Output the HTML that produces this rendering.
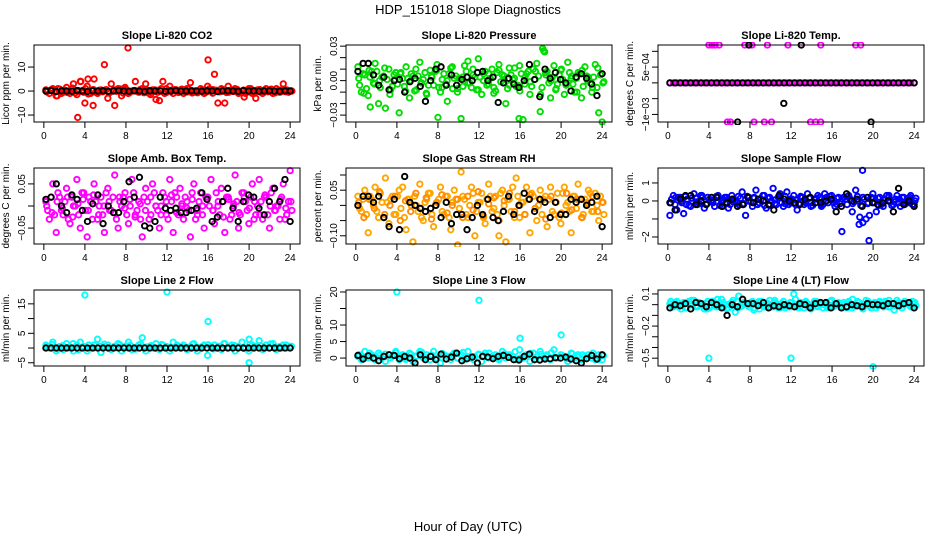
<!DOCTYPE html>
<html><head><meta charset="utf-8"><style>
html,body{margin:0;padding:0;background:#fff;}
svg{display:block;font-family:"Liberation Sans",Arial,sans-serif;}
</style></head><body>
<svg id="chart" width="936" height="540" viewBox="0 0 936 540" xmlns="http://www.w3.org/2000/svg">
<rect width="936" height="540" fill="#fff"/>
<text x="468" y="14" text-anchor="middle" font-size="13">HDP_151018  Slope Diagnostics</text>
<text x="468" y="531" text-anchor="middle" font-size="13">Hour of Day (UTC)</text>
</svg>
<script>
const xTicks = [0,4,8,12,16,20,24];

// CO2
const co2Color = [0.5,-1,1,-2,0.8,-0.5,1.5,-1,3,-1.5,4,-0.5,2,-1,5,-1,0.5,11,-3,3,-6,1,-2,1.5,-1,0,4,-0.5,1,3,-1,0.5,-3.5,-4,4,1,2,-1,0.5,0,-1,1,3.5,-0.5,0,1,-1,2,0.5,7,-5,1,-5,2,0.5,1,-1,0,-1,1,-1,-3,0.5,-1,1,0.5,-1,1,-0.5,3,0.5,0];
const co2Color2 = [0,0.5,-0.5,1,-1,0.3,-0.3,0.8,-0.8,0.2,-0.2,1,-1,0.5,-0.5,0.3,-0.3,0.6,-0.6,0.1,-0.1,0.9,-0.9,0.4,-0.4,0.2,-0.2,0.7,-0.7,0.3,-0.3,0.5,-0.5,1,-1,0.2,-0.2,0.6,-0.6,0.4,-0.4,0.8,-0.8,0.1,-0.1,0.5,-0.5,0.9,-0.9,0.3,-0.3,0.6,-0.6,0.2,-0.2,0.7,-0.7,0.4,-0.4,1,-1,0.5,-0.5,0.3,-0.3,0.8,-0.8,0.2,-0.2,0.5,-0.5,0];
const co2Color3 = [-0.3,0.4,-2,0.2,-0.6,1.2,-0.2,0.3,-1.2,0.6,-0.4,0.1,-0.8,0.5,-0.1,0.9,-0.5,0.2,-0.3,0.7,-1.5,0.4,0.0,-0.6,0.3,-0.2,0.8,-0.4,0.1,-0.7,0.5,-0.1,0.6,-0.3,0.2,-0.5,0.4,-0.2,-2.5,0.3,-0.4,0.6,-0.1,0.2,-0.6,0.4,-0.3,0.1];
const co2OutX = [3.3,4.0,4.3,8.2,16.0,4.8,3.6];
const co2OutY = [-11,-5,5,18,13,-6,4];
const co2Black = [0,0.2,-0.2,0.1,0,-0.1,0.2,0,-0.2,0.1,0,0.1,-0.1,0,0.2,0,-0.1,0.1,0,-0.2,0.1,0,0.1,-0.1,0,0.2,-0.1,0,0.1,0,-0.1,0.1,0,-0.2,0,0.1,0,-0.1,0.2,0,0.1,-0.1,0,0.1,0,-0.1,0.1,0];

// Pressure
const presColor = [0.012,-0.01,0.005,-0.013,0.008,0.015,-0.02,0.003,-0.024,0.01,-0.005,0.007,-0.028,0.002,0.012,-0.015,0.004,-0.008,0.016,0.001,-0.012,0.009,-0.004,0.014,-0.01,0.006,-0.018,0.011,0.002,-0.007,-0.033,0.013,0.017,-0.006,0.003,0.019,-0.012,0.008,-0.003,0.01,-0.009,0.014,0.005,-0.02,0.011,0.001,-0.005,0.013,-0.034,0.006,-0.012,0.01,0.015,-0.027,0.026,0.008,-0.015,0.013,-0.003,0.009,-0.012,0.016,0.002,-0.01,0.007,-0.015,0.012,0.003,-0.01,0.014,-0.028,-0.036];
const presColor2 = [-0.004,0.006,-0.007,0.003,-0.002,0.008,-0.006,0.004,0.001,-0.008,0.005,-0.003,0.007,-0.005,0.002,0.006,-0.009,0.004,-0.002,0.007,-0.004,0.003,0.008,-0.006,0.001,-0.003,0.006,-0.007,0.004,0.002,-0.005,0.008,-0.002,0.005,-0.008,0.003,0.006,-0.004,0.002,-0.006,0.007,-0.001,0.004,-0.007,0.005,0.002,-0.004,0.006,-0.003,0.008,-0.005,0.001,0.004,-0.006,0.007,-0.002,0.003,-0.008,0.005,0.001,-0.004,0.007,-0.003,0.002,0.006,-0.005,0.004,-0.002,0.003,-0.006,0.005,-0.001];
const presColor3 = [0.002,-0.011,0.009,-0.003,0.0,0.011,-0.012,0.001,0.006,-0.009,0.0,0.01,-0.002,-0.011,0.004,0.009,-0.006,0.0,0.012,-0.01,0.003,-0.002,0.01,-0.008,0.0,0.006,-0.011,0.009,0.001,-0.004,0.011,-0.009,0.003,-0.001,0.008,-0.012,0.005,0.0,-0.007,0.01,-0.003,0.004,-0.01,0.009,0.0,-0.006,0.011,-0.002];
const presOutX = [18.2,18.4,8.0,15.9,1.4];
const presOutY = [0.028,0.025,-0.032,-0.033,-0.023];
const presBlack = [0.008,0.015,0.015,0.005,-0.004,0.003,-0.008,0,0.001,-0.01,-0.001,0.002,-0.005,-0.018,0,0.01,0.012,-0.004,0.005,-0.004,0.001,0.003,0,0.007,0.008,0,0.003,-0.019,-0.002,0.002,-0.003,-0.006,0,0.014,0.001,-0.014,0.01,0.002,0.007,0.001,-0.002,-0.009,0.003,0.006,0.002,-0.003,-0.013,0.006];

// Li-820 Temp
const tempColor = [0,0,0,0,0,0,0,0,0,0,0,0,0,0,0,0,0,0,0,0,0,0,0,0,0,0,0,0,0,0,0,0,0,0,0,0,0,0,0,0,0,0,0,0,0,0,0,0,0,0,0,0,0,0,0,0,0,0,0,0,0,0,0,0,0,0,0,0,0,0,0,0];
const tempOutX = [4.0,4.3,4.6,5.0,7.5,7.9,8.2,9.7,11.7,13.0,14.9,18.3,18.8,5.8,6.1,8.4,9.4,10.1,13.9,14.4,14.9];
const tempOutY = [0.0012,0.0012,0.0012,0.0012,0.0012,0.0012,0.0012,0.0012,0.0012,0.0012,0.0012,0.0012,0.0012,-0.00124,-0.00124,-0.00124,-0.00124,-0.00124,-0.00124,-0.00124,-0.00124];
const tempBlack = [0,0,0,0,0,0,0,0,0,0,0,0,0,0,0,0,0,0,0,0,0,0,0,0,0,0,0,0,0,0,0,0,0,0,0,0,0,0,0,0,0,0,0,0,0,0,0,0];
const tempBlackOutX = [6.8,7.9,11.3,13.0,19.8];
const tempBlackOutY = [-0.00124,0.0012,-0.00065,0.0012,-0.00124];

// Amb box temp
const ambColor = [0.01,-0.03,0.05,-0.06,0.02,-0.02,0.04,-0.04,0.0,0.06,-0.05,0.03,-0.07,0.01,0.05,-0.03,0.02,-0.06,0.04,-0.01,0.07,-0.05,0.0,0.03,-0.04,0.06,-0.02,0.01,-0.07,0.04,-0.03,0.05,0.0,-0.05,0.03,-0.02,0.06,-0.06,0.02,0.04,-0.03,0.01,-0.07,0.05,-0.01,0.03,-0.05,0.02,0.06,-0.04,0.0,0.04,-0.06,0.02,-0.02,0.07,-0.05,0.03,0.01,-0.04,0.05,-0.02,0.06,-0.03,0.02,-0.05,0.04,0.0,-0.03,0.05,-0.02,0.08];
const ambColor2 = [-0.01,0.02,-0.02,0.03,-0.01,0.01,-0.03,0.02,0.0,-0.02,0.03,-0.01,0.02,-0.03,0.01,0.0,-0.02,0.03,-0.01,0.02,-0.03,0.01,0.02,-0.02,0.0,0.03,-0.01,-0.03,0.02,0.01,-0.02,0.03,-0.01,0.0,0.02,-0.03,0.01,0.03,-0.02,0.0,0.02,-0.01,0.03,-0.03,0.01,-0.02,0.02,0.0,-0.01,0.03,-0.02,0.01,0.02,-0.03,0.0,0.01,-0.02,0.03,-0.01,0.02,-0.03,0.0,0.01,0.02,-0.02,0.03,-0.01,0.0,0.02,-0.03,0.01,-0.01];
const ambColor3 = [0.0,-0.015,0.01,-0.005,0.02,-0.025,0.005,0.015,-0.01,0.025,-0.02,0.0,0.01,-0.015,0.02,-0.005,0.015,-0.025,0.005,-0.01,0.02,0.0,-0.02,0.01,0.025,-0.015,0.005,-0.005,0.015,-0.02,0.0,0.02,-0.01,0.01,-0.025,0.015,0.005,-0.015,0.02,-0.005,0.01,-0.02,0.025,0.0,-0.01,0.015,-0.005,0.01];
const ambBlack = [0.015,0.02,0.05,0.0,-0.015,0.025,0.015,-0.01,-0.035,0.005,0.025,-0.04,0.0,-0.015,-0.015,0.01,0.055,0.02,0.065,-0.045,-0.05,-0.035,0.02,-0.005,-0.01,-0.005,-0.015,-0.015,-0.01,-0.005,0.03,0.015,-0.035,-0.025,0.01,0.04,-0.005,-0.035,0.01,0.025,0.02,-0.005,-0.02,0.01,0.04,0.01,0.06,-0.035];

// Gas stream RH
const rhColor = [0.03,-0.02,0.05,-0.09,0.02,0.06,-0.04,0.01,0.09,-0.06,0.03,-0.03,0.05,0.06,-0.08,0.02,-0.12,0.0,0.07,-0.05,0.02,0.04,-0.07,0.01,0.06,-0.03,0.03,-0.08,0.05,-0.13,0.11,0.02,-0.04,0.06,-0.1,0.01,0.04,-0.06,0.07,-0.02,0.03,-0.1,0.05,-0.12,0.02,0.06,0.09,-0.04,0.01,0.06,-0.09,0.03,-0.05,0.05,0.02,-0.07,0.06,-0.03,0.04,-0.06,0.06,0.01,-0.09,0.03,0.07,-0.04,0.02,0.05,-0.02,0.04,-0.05,0.01];
const rhColor2 = [-0.01,0.02,-0.03,0.03,0.0,-0.02,0.04,-0.04,0.01,0.02,-0.03,0.03,-0.01,-0.04,0.02,0.0,0.03,-0.02,-0.04,0.01,0.04,-0.03,0.0,0.02,-0.02,0.03,-0.04,0.01,0.02,-0.01,0.03,-0.03,0.0,0.04,-0.02,0.01,-0.04,0.02,0.03,-0.01,-0.03,0.04,0.0,0.02,-0.02,-0.04,0.03,0.01,-0.03,0.02,0.04,-0.01,0.0,-0.03,0.03,0.02,-0.02,0.01,-0.04,0.04,0.0,-0.02,0.03,-0.01,0.02,-0.03,0.01,0.04,-0.02,0.0,0.03,-0.03];
const rhColor3 = [0.01,-0.04,0.02,-0.01,0.045,-0.03,0.0,0.03,-0.05,0.015,-0.02,0.04,-0.01,0.025,-0.045,0.01,0.035,-0.025,0.0,0.02,-0.04,0.03,-0.015,0.045,-0.035,0.005,0.025,-0.05,0.015,0.04,-0.02,0.0,-0.03,0.035,-0.01,0.02,-0.045,0.03,0.01,-0.025,0.04,-0.015,0.02,-0.04,0.005,0.03,-0.02,0.01];
const rhBlack = [0.0,0.03,0.03,0.01,0.03,-0.04,-0.07,0.02,-0.08,0.095,0.01,0.0,-0.01,-0.02,-0.01,0.0,-0.04,0.01,-0.06,-0.03,-0.03,-0.08,-0.04,0.0,-0.03,0.02,-0.04,-0.05,-0.02,0.03,-0.03,0.0,0.04,0.02,-0.02,0.02,0.01,-0.04,0.01,-0.03,-0.03,0.02,0.01,0.02,0.0,0.01,0.03,-0.07];

// Sample flow
const sampColor = [-0.8,0.3,-0.5,0.2,-0.7,0.1,-0.3,0.4,-0.2,0.3,-0.4,0.2,0.0,-0.3,0.3,-0.1,0.2,-0.4,0.3,0.0,-0.2,0.5,-0.8,0.2,-0.3,0.6,-0.1,0.3,-0.4,0.2,0.7,-0.2,0.4,-0.3,0.5,-0.1,0.3,-0.5,0.2,-0.2,0.4,-0.3,0.1,0.3,-0.2,0.4,-0.1,0.3,-0.3,0.2,-1.7,0.1,0.3,-0.6,0.6,-1.3,1.7,-1.0,-0.8,0.4,-0.6,0.2,-0.3,0.3,0.0,-0.2,0.3,-0.3,0.2,-0.1,0.3,-0.2];
const sampColor2 = [0.1,-0.2,0.2,-0.1,0.25,-0.25,0.0,0.15,-0.15,0.2,-0.2,0.1,-0.1,0.25,-0.25,0.05,0.2,-0.2,0.1,-0.1,0.15,-0.15,0.25,-0.05,0.2,-0.2,0.1,-0.25,0.15,0.0,-0.15,0.2,-0.1,0.25,-0.2,0.1,0.05,-0.15,0.2,-0.1,0.15,-0.25,0.1,0.2,-0.2,0.0,0.25,-0.1,0.15,-0.15,0.2,-0.2,0.1,-0.05,0.25,-0.25,0.1,-0.15,0.2,-0.1,0.15,-0.2,0.05,0.2,-0.25,0.1,-0.1,0.2,-0.15,0.1,-0.2,0.15];
const sampColor3 = [-0.1,0.2,0.0,-0.2,0.15,-0.05,0.3,-0.15,0.05,0.2,-0.3,0.1,-0.05,0.25,-0.2,0.0,0.15,-0.1,0.3,-0.25,0.05,0.2,-0.15,0.1,-0.2,0.25,0.0,-0.1,0.15,-0.3,0.2,0.05,-0.2,0.1,0.25,-0.15,0.0,0.2,-0.1,0.15,-0.25,0.05,0.3,-0.05,0.1,-0.2,0.2,0.0];
const sampOutX = [19.6,19.0,18.7];
const sampOutY = [-2.2,-1.2,-0.9];
const sampBlack = [-0.1,-0.5,0.1,0.3,0.3,-0.2,0.0,-0.2,0.2,0.2,-0.3,-0.1,0.1,-0.3,-0.2,0.2,-0.1,0.1,0.0,-0.2,-0.5,0.3,0.1,0.0,-0.1,-0.2,0.1,0.2,-0.1,-0.1,0.0,0.1,-0.6,-0.3,0.4,0.0,0.1,-0.3,0.2,-0.1,-0.2,-0.1,0.0,-0.6,0.7,-0.2,0.0,-0.3];

// Line 2 flow
const l2Color = [1,0,2,-1,0.5,-0.5,1.5,0,-1,1,2,0.5,-1,0,1,3,-1.5,0.5,1,-0.5,0,1.5,-1,0.5,2,-0.5,0,1,3.5,-1,0.5,0,1.5,-0.5,1,0,-1,2,0.5,0,1,-0.5,0.5,1.5,-1,0,1,-2.5,0.5,1,0,-0.5,1.5,0,1,-1,0.5,2,0,-1,1,0.5,2.5,-0.5,1,0,1.5,-0.5,0.5,1,0,0.5];
const l2Color2 = [0.5,1.2,-0.3,0.8,0.2,1.5,-0.6,0.4,1.0,0.0,0.7,1.3,-0.2,0.6,1.1,0.1,0.9,-0.4,1.4,0.3,0.8,-0.1,1.2,0.5,0.0,1.0,0.4,-0.5,1.3,0.2,0.7,1.1,-0.3,0.6,1.5,0.1,0.9,0.3,-0.2,1.2,0.5,0.8,0.0,1.4,0.4,-0.1,1.0,0.6];
const l2OutX = [4.0,12.0,16.0,20.0,20.0];
const l2OutY = [18,19,9,3,-5];
const l2Black = [0,0,0,0,0,0,0,0,0,0,0,0,0,0,0,0,0,0,0,0,0,0,0,0,0,0,0,0,0,0,0,0,0,0,0,0,0,0,0,0,0,0,0,0,0,0,0,0];

// Line 3 flow
const l3Color = [0.5,-0.5,2,0,1,-0.5,1.5,0,-1,1,0.5,2,-0.5,1,0,1.5,-1,0.5,2,0,1,-0.5,2,0,-1.5,1,0.5,-0.5,1.5,0,1,-0.5,2,0,0.5,1,-1,1.5,0,0.5,1,-0.5,2,0,1,0.5,-0.5,2.5,0,1,-1,1.5,0.5,2,0,1,-0.5,2.5,0,1,0.5,-1,1.5,0,1,-0.5,0.5,1,0,-0.5,1,-0.5];
const l3Color2 = [1.0,0.2,1.5,-0.3,0.8,1.2,0.0,1.6,0.4,-0.4,1.1,0.6,1.8,0.1,0.9,-0.2,1.4,0.5,1.0,0.0,1.7,0.3,-0.5,1.2,0.7,1.5,0.2,-0.1,1.3,0.6,1.9,0.0,0.8,1.4,-0.3,1.1,0.5,1.6,0.2,0.9,-0.2,1.3,0.4,1.0,0.1,1.5,-0.4,0.7];
const l3OutX = [4.0,12.0,16.0,20.0];
const l3OutY = [20,17.5,6,7];
const l3Black = [0.8,-0.3,0.7,0,-0.8,0.5,1,0.8,-0.2,0.5,0,-1.5,1,-0.5,0.5,-0.5,1.2,-0.3,0.3,1.5,-0.8,-0.2,0.3,-1.5,0.5,0.3,-0.2,0.5,0.8,0.2,-0.5,-0.6,0.5,1.2,-0.5,-0.6,-0.3,-0.2,0.1,0,0.3,-0.3,-0.8,-1.5,-0.2,0.8,-0.3,1];

// Line 4 (LT) flow
const l4Color = [0.01,-0.02,0.03,-0.01,0.02,-0.03,0.0,0.04,-0.02,0.01,-0.04,0.03,-0.01,0.02,-0.02,0.05,0.0,-0.03,0.02,-0.07,0.08,-0.01,0.01,-0.02,0.03,0.0,-0.04,0.02,-0.01,0.04,-0.02,0.01,-0.03,0.03,0.0,-0.02,0.1,-0.01,0.02,-0.03,0.01,-0.01,0.03,-0.02,0.01,0.0,-0.03,0.04,-0.01,0.02,-0.02,0.01,0.03,-0.03,0.0,0.02,-0.02,0.04,-0.01,0.01,-0.03,0.03,0.0,0.02,-0.02,0.01,0.04,-0.01,0.0,0.02,-0.02,0.01];
const l4Color2 = [-0.01,0.02,-0.02,0.01,-0.03,0.03,0.0,-0.02,0.02,-0.01,0.01,-0.03,0.03,-0.02,0.0,0.02,-0.04,0.01,-0.01,0.03,-0.02,0.01,0.0,0.02,-0.03,-0.01,0.03,-0.02,0.01,0.0,0.02,-0.03,0.01,-0.01,-0.02,0.02,0.0,-0.03,0.01,0.03,-0.02,0.0,-0.01,0.02,-0.03,0.01,0.03,-0.02,0.0,-0.01,0.02,-0.03,0.01,-0.01,0.03,-0.02,0.0,0.01,-0.03,0.02,-0.01,0.0,0.03,-0.02,0.01,-0.01,0.02,-0.03,0.01,0.0,0.03,-0.01];
const l4Color3 = [0.03,0.0,-0.04,0.02,0.04,-0.01,0.01,-0.04,0.03,0.05,-0.02,0.0,0.04,-0.03,0.02,0.0,-0.05,0.03,0.01,-0.02,0.04,0.0,-0.03,0.02,0.05,-0.01,0.01,-0.04,0.03,0.0,-0.02,0.04,0.01,-0.03,0.02,0.05,-0.01,-0.04,0.03,0.0,0.02,-0.02,0.04,-0.05,0.01,0.03,-0.01,0.02];
const l4OutX = [4.0,12.0,20.0];
const l4OutY = [-0.5,-0.5,-0.58];
const l4Black = [-0.03,0.0,-0.01,0.01,-0.04,0.02,0.01,-0.02,0.02,0.0,-0.03,-0.1,0.0,-0.02,0.05,0.01,0.01,-0.01,0.02,-0.03,-0.01,-0.02,0.0,-0.01,-0.02,0.01,0.0,-0.03,0.01,0.02,0.02,-0.03,0.01,-0.03,-0.02,0.0,-0.01,-0.02,0.01,0.0,0.0,-0.01,0.01,0.01,-0.01,0.01,0.02,-0.03];

const NS = 'http://www.w3.org/2000/svg';
const svg = document.getElementById('chart');
const colL = [34,346,658], PW = 266;
const rowT = [45,168,290], rowB = [122,244,366];

function mk(tag, attrs, parent) {
  const e = document.createElementNS(NS, tag);
  for (const k in attrs) e.setAttribute(k, attrs[k]);
  parent.appendChild(e);
  return e;
}

function P(key, col, row, title, ylab, yMin, yMax, yTickVals, labVals, labTexts, layers) {
  const L = colL[col], R = L + PW, T = rowT[row], B = rowB[row];
  const g = mk('g', {}, svg);
  
  
  const xs = h => L + (h + 0.96) / 25.92 * PW;
  const ys = v => B - (v - yMin) / (yMax - yMin) * (B - T);
  const t = mk('text', {x: (L + R) / 2, y: T - 6, 'text-anchor': 'middle', 'font-size': 11, 'font-weight': 'bold'}, g);
  t.textContent = title;
  
  
  const yl = mk('text', {transform: 'translate(' + (L - 25) + ',' + ((T + B) / 2) + ') rotate(-90)', 'text-anchor': 'middle', 'font-size': 10}, g);
  yl.textContent = ylab;
  
  
  const clip = mk('clipPath', {id: 'clip-' + key}, g);
  mk('rect', {x: L, y: T - 3, width: PW, height: B - T + 6}, clip);
  const pts = mk('g', {'clip-path': 'url(#clip-' + key + ')'}, g);
  
  
  layers.forEach(ly => {
    const n = ly.vals.length;
    ly.vals.forEach((v, i) => {
      const h = ly.hours ? ly.hours[i] : 0.2 + i * 23.8 / (n - 1) + (ly.shift || 0);
      const c = mk('circle', {cx: xs(h), cy: ys(v), r: 2.7, fill: 'none', stroke: ly.color, 'stroke-width': 1.9}, pts);
      
      
    });
  });
  const box = mk('rect', {x: L, y: T, width: PW, height: B - T, fill: 'none', stroke: '#000', 'stroke-width': 1}, g);
  
  
  xTicks.forEach(h => {
    mk('line', {x1: xs(h), x2: xs(h), y1: B, y2: B + 6, stroke: '#000'}, g);
    const tl = mk('text', {x: xs(h), y: B + 17, 'text-anchor': 'middle', 'font-size': 10}, g);
    tl.textContent = h;
    
    
  });
  yTickVals.forEach(v => {
    mk('line', {x1: L - 6, x2: L, y1: ys(v), y2: ys(v), stroke: '#000'}, g);
  });
  labVals.forEach((v, i) => {
    const tl = mk('text', {transform: 'translate(' + (L - 9) + ',' + ys(v) + ') rotate(-90)', 'text-anchor': 'middle', 'font-size': 10}, g);
    tl.textContent = labTexts[i];
    
    
  });
}

P('co2', 0, 0, 'Slope Li-820 CO2', 'Licor ppm per min.', -12.9, 19.2, [-10,0,10], [-10,0,10], ['\u221210','0','10'], [
  {name:'color', vals: co2Color, color:'#ff0000'},
  {name:'color2', vals: co2Color2, color:'#ff0000', shift:0.17},
  {name:'color3', vals: co2Color3, color:'#ff0000', shift:0.08},
  {name:'outlier', vals: co2OutY, hours: co2OutX, color:'#ff0000'},
  {name:'black', vals: co2Black, color:'#000'}]);
P('pressure', 1, 0, 'Slope Li-820 Pressure', 'kPa per min.', -0.036, 0.031, [-0.03,-0.02,-0.01,0,0.01,0.02,0.03], [-0.03,0,0.03], ['\u22120.03','0.00','0.03'], [
  {name:'color', vals: presColor, color:'#00dd00'},
  {name:'color2', vals: presColor2, color:'#00dd00', shift:0.17},
  {name:'color3', vals: presColor3, color:'#00dd00', shift:0.08},
  {name:'outlier', vals: presOutY, hours: presOutX, color:'#00dd00'},
  {name:'black', vals: presBlack, color:'#000'}]);
P('temp', 2, 0, 'Slope Li-820 Temp.', 'degrees C per min.', -0.00124, 0.0012, [-0.001,-0.0005,0,0.0005,0.001], [-0.001,0.0005], ['\u22121e\u221203','5e\u221204'], [
  {name:'color', vals: tempColor, color:'#ff00ff'},
  {name:'outlier', vals: tempOutY, hours: tempOutX, color:'#ff00ff'},
  {name:'black', vals: tempBlack, color:'#000'},
  {name:'black-outlier', vals: tempBlackOutY, hours: tempBlackOutX, color:'#000'}]);
P('amb', 0, 1, 'Slope Amb. Box Temp.', 'degrees C per min.', -0.086, 0.086, [-0.05,0,0.05], [-0.05,0.05], ['\u22120.05','0.05'], [
  {name:'color', vals: ambColor, color:'#ff00ff'},
  {name:'color2', vals: ambColor2, color:'#ff00ff', shift:0.17},
  {name:'color3', vals: ambColor3, color:'#ff00ff', shift:0.08},
  {name:'black', vals: ambBlack, color:'#000'}]);
P('rh', 1, 1, 'Slope Gas Stream RH', 'percent per min.', -0.127, 0.123, [-0.1,-0.05,0,0.05,0.1], [-0.1,0.05], ['\u22120.10','0.05'], [
  {name:'color', vals: rhColor, color:'#ffa500'},
  {name:'color2', vals: rhColor2, color:'#ffa500', shift:0.17},
  {name:'color3', vals: rhColor3, color:'#ff8c00', shift:0.08},
  {name:'black', vals: rhBlack, color:'#000'}]);
P('sample', 2, 1, 'Slope Sample Flow', 'ml/min per min.', -2.39, 1.83, [-2,-1,0,1], [-2,0,1], ['\u22122','0','1'], [
  {name:'color', vals: sampColor, color:'#0000ff'},
  {name:'color2', vals: sampColor2, color:'#0000ff', shift:0.17},
  {name:'color3', vals: sampColor3, color:'#0000ff', shift:0.08},
  {name:'outlier', vals: sampOutY, hours: sampOutX, color:'#0000ff'},
  {name:'black', vals: sampBlack, color:'#000'}]);
P('line2', 0, 2, 'Slope Line 2 Flow', 'ml/min per min.', -6.1, 19.7, [-5,0,5,10,15], [-5,5,15], ['\u22125','5','15'], [
  {name:'color', vals: l2Color, color:'#00ffff'},
  {name:'color2', vals: l2Color2, color:'#00ffff', shift:0.12},
  {name:'outlier', vals: l2OutY, hours: l2OutX, color:'#00ffff'},
  {name:'black', vals: l2Black, color:'#000'}]);
P('line3', 1, 2, 'Slope Line 3 Flow', 'ml/min per min.', -2.4, 20.6, [0,5,10,15,20], [0,5,10,20], ['0','5','10','20'], [
  {name:'color', vals: l3Color, color:'#00ffff'},
  {name:'color2', vals: l3Color2, color:'#00ffff', shift:0.12},
  {name:'outlier', vals: l3OutY, hours: l3OutX, color:'#00ffff'},
  {name:'black', vals: l3Black, color:'#000'}]);
P('line4', 2, 2, 'Slope Line 4 (LT) Flow', 'ml/min per min.', -0.573, 0.137, [-0.5,-0.4,-0.3,-0.2,-0.1,0,0.1], [-0.5,-0.2,0.1], ['\u22120.5','\u22120.2','0.1'], [
  {name:'color', vals: l4Color, color:'#00ffff'},
  {name:'color2', vals: l4Color2, color:'#00ffff', shift:0.17},
  {name:'color3', vals: l4Color3, color:'#00ffff', shift:0.08},
  {name:'outlier', vals: l4OutY, hours: l4OutX, color:'#00ffff'},
  {name:'black', vals: l4Black, color:'#000'}]);
</script>
</body></html>
